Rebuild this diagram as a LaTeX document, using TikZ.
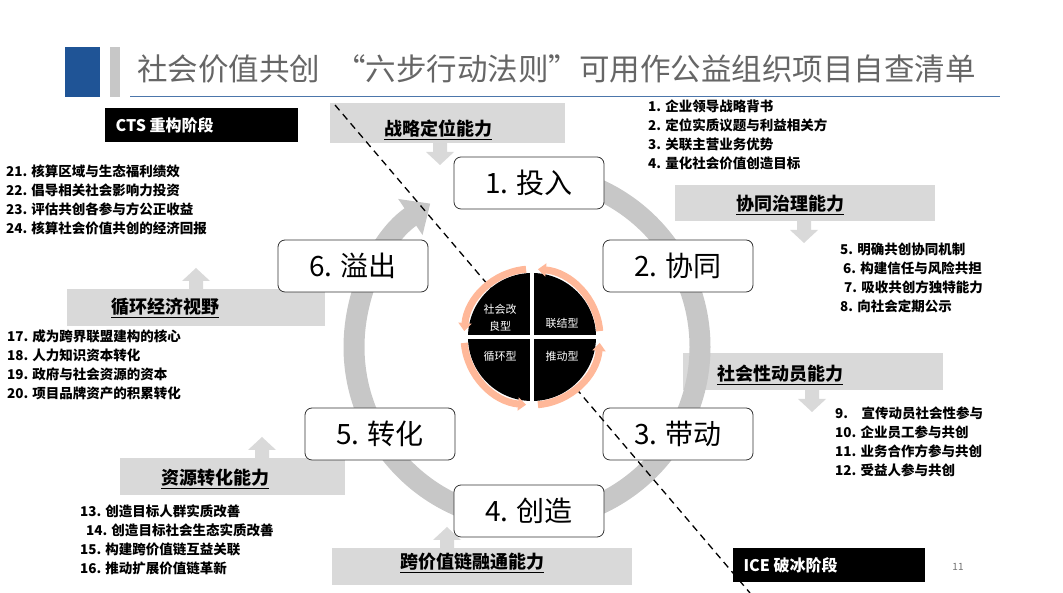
\documentclass[tikz,border=0pt]{standalone}
\usepackage{fontspec}
\setmainfont{Noto Sans CJK SC}
\usetikzlibrary{arrows.meta}
\definecolor{tblue}{RGB}{31,84,150}
\begin{document}
\begin{tikzpicture}[x=1pt,y=1pt,
  stepbox/.style={draw=black!80,line width=0.8pt,rounded corners=7pt,fill=white,minimum width=150pt,minimum height=52pt,font=\fontsize{28}{30}\selectfont},
  capbox/.style={fill=black!15,inner sep=0pt},
  captext/.style={font=\bfseries\fontsize{18}{20}\selectfont},
  list/.style={font=\bfseries\fontsize{13.5}{19}\selectfont,align=left,anchor=north west,inner sep=0pt},
  stage/.style={fill=black,anchor=west,minimum height=34pt,inner sep=0pt},
  stagetext/.style={text=white,font=\bfseries\fontsize{16}{18}\selectfont,anchor=west},
  quad/.style={text=white,font=\fontsize{11}{17}\selectfont,align=center},
  blk/.style={fill=black!15}]
\useasboundingbox (0,0) rectangle (1063,593);
\def\dnarrow(#1,#2){\fill[blk] (#1-7,#2) -- (#1+7,#2) -- (#1+7,#2-9) -- (#1+14,#2-9) -- (#1,#2-22) -- (#1-14,#2-9) -- (#1-7,#2-9) -- cycle;}
\def\uparrow(#1,#2){\fill[blk] (#1-7,#2) -- (#1+7,#2) -- (#1+7,#2+9) -- (#1+14,#2+9) -- (#1,#2+22) -- (#1-14,#2+9) -- (#1-7,#2+9) -- cycle;}
% title
\fill[tblue] (65,496) rectangle (100,546);
\fill[black!22] (110,496) rectangle (120,546);
\node[anchor=west,text=black!60,font=\fontsize{30.5}{32}\selectfont,inner sep=0pt] (title) at (137,524) {社会价值共创\hspace{0.5em}“六步行动法则”可用作公益组织项目自查清单};
\draw[tblue!80,line width=0.8pt] (130,497) -- (1000,497);
% stage labels
\node[stage,minimum width=193pt] (cts) at (105,468) {};
\node[stagetext] (ctst) at (112,468) {CTS 重构阶段};
\node[stage,minimum width=192pt] (ice) at (733,28) {};
\node[stagetext] (icet) at (740,28) {ICE 破冰阶段};
\node[text=black!55,font=\fontsize{10}{12}\selectfont] (pg) at (958,26) {11};
% capability captions
\node[capbox,minimum width=235pt,minimum height=40pt] (c1) at (447,470) {};
\node[captext] at (438,463) {\underline{战略定位能力}};
\dnarrow(440,450)
\node[capbox,minimum width=260pt,minimum height=36pt] (c2) at (805,390) {};
\node[captext] at (790,388) {\underline{协同治理能力}};
\dnarrow(804,372)
\node[capbox,minimum width=260pt,minimum height=37pt] (c3) at (813,221) {};
\node[captext] at (780,218) {\underline{社会性动员能力}};
\dnarrow(812,203)
\node[capbox,minimum width=300pt,minimum height=37pt] (c4) at (482,26) {};
\node[captext] at (472,30) {\underline{跨价值链融通能力}};
\uparrow(447,44)
\node[capbox,minimum width=225pt,minimum height=37pt] (c5) at (232,116) {};
\node[captext] at (215,114) {\underline{资源转化能力}};
\uparrow(262,134)
\node[capbox,minimum width=258pt,minimum height=37pt] (c6) at (196,285) {};
\node[captext] at (165,285) {\underline{循环经济视野}};
\uparrow(196,303)
% lists
\node[list] (l1) at (648,493) {1. 企业领导战略背书\\2. 定位实质议题与利益相关方\\3. 关联主营业务优势\\4. 量化社会价值创造目标};
\node[list] (l2) at (840,350) {5. 明确共创协同机制\\\hspace*{3pt}6. 构建信任与风险共担\\\hspace*{4pt}7. 吸收共创方独特能力\\8. 向社会定期公示};
\node[list] (l3) at (835,186) {9.\quad 宣传动员社会性参与\\10. 企业员工参与共创\\11. 业务合作方参与共创\\12. 受益人参与共创};
\node[list] (l4) at (80,88) {13. 创造目标人群实质改善\\\hspace*{6pt}14. 创造目标社会生态实质改善\\15. 构建跨价值链互益关联\\16. 推动扩展价值链革新};
\node[list] (l5) at (7,263) {17. 成为跨界联盟建构的核心\\18. 人力知识资本转化\\19. 政府与社会资源的资本\\20. 项目品牌资产的积累转化};
\node[list] (l6) at (6,428) {21. 核算区域与生态福利绩效\\22. 倡导相关社会影响力投资\\23. 评估共创各参与方公正收益\\24. 核算社会价值共创的经济回报};
% ring
\coordinate (c) at (527,246);
\draw[black!22,line width=21pt,-{Triangle[width=42pt,length=24pt]}] ([shift={(90:173)}]c) arc[start angle=90,end angle=-236,radius=173];
% dashed line
\coordinate (d1) at (335,488);
\coordinate (d2) at (750,0);
% steps
\node[stepbox] (s1) at (529,410) {1. 投入};
\node[stepbox] (s2) at (678,327) {2. 协同};
\node[stepbox] (s3) at (678,159) {3. 带动};
\node[stepbox] (s4) at (529,82) {4. 创造};
\node[stepbox] (s5) at (380,159) {5. 转化};
\node[stepbox] (s6) at (353,327) {6. 溢出};
\draw[line width=1.3pt,dash pattern=on 7pt off 5pt] (d1) -- (d2);
% center disk
\coordinate (m) at (532,256);
\fill[black] (m) circle (64);
\foreach \s/\e in {95/175,5/85,-85/-5,-175/-95}{
  \draw[red!40!orange!40,line width=7pt,-{Triangle[width=13pt,length=8pt]}] ([shift={(\s:68)}]m) arc[start angle=\s,end angle=\e,radius=68];}
\fill[white] ([xshift=-2pt]m) ++(0,-74) rectangle ++(4,148);
\fill[white] ([yshift=-2pt]m) ++(-74,0) rectangle ++(148,4);
\node[quad] (q1) at (500,275) {社会改\\良型};
\node[quad] (q2) at (562,270) {联结型};
\node[quad] (q3) at (500,237) {循环型};
\node[quad] (q4) at (562,237) {推动型};
\end{tikzpicture}
\end{document}
